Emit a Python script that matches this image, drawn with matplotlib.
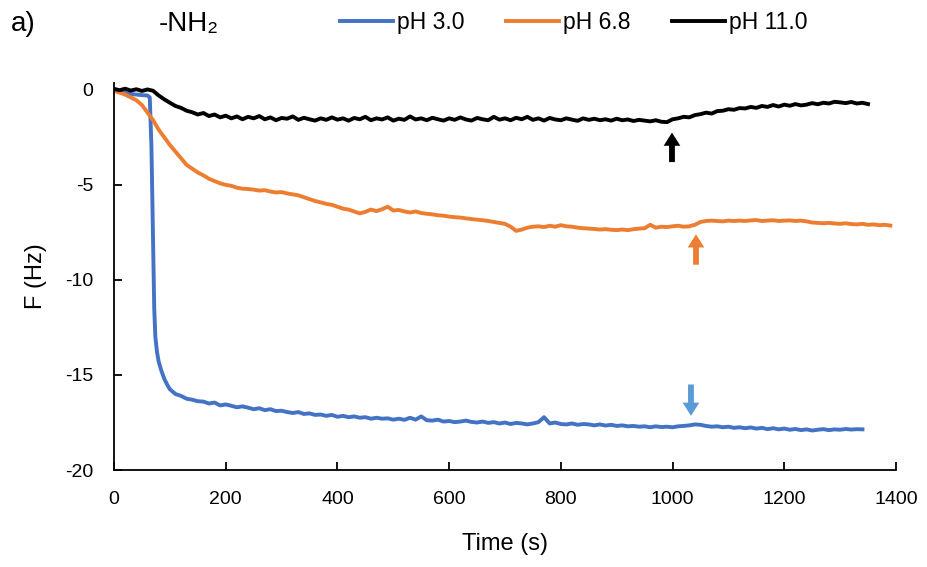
import numpy as np
import matplotlib
matplotlib.use('Agg')
from matplotlib import pyplot as plt

plt.rcParams['font.family'] = ['Liberation Sans', 'DejaVu Sans']
plt.rcParams['axes.unicode_minus'] = False

# pH 11.0 (black), sampled every 10 s
ph11 = [0.05, -0.02, 0.06, -0.04, 0.03, -0.06, 0.02, -0.05, -0.3, -0.5,
        -0.68, -0.85, -0.95, -1.1, -1.18, -1.3, -1.22, -1.38, -1.3, -1.45,
        -1.36, -1.5, -1.4, -1.55, -1.42, -1.5, -1.38, -1.55, -1.45, -1.6,
        -1.48, -1.52, -1.4, -1.58, -1.47, -1.55, -1.62, -1.5, -1.58, -1.45,
        -1.57, -1.5, -1.62, -1.48, -1.55, -1.42, -1.6, -1.5, -1.56, -1.45,
        -1.62, -1.52, -1.58, -1.4, -1.56, -1.5, -1.6, -1.47, -1.55, -1.62,
        -1.5, -1.58, -1.45, -1.56, -1.62, -1.48, -1.55, -1.6, -1.42, -1.57,
        -1.5, -1.6, -1.47, -1.55, -1.42, -1.58, -1.5, -1.62, -1.48, -1.56,
        -1.6, -1.5, -1.57, -1.63, -1.5, -1.58, -1.52, -1.6, -1.55, -1.62,
        -1.52, -1.6, -1.56, -1.64, -1.58, -1.62, -1.66, -1.6, -1.68, -1.7,
        -1.55, -1.5, -1.42, -1.45, -1.33, -1.28, -1.2, -1.25, -1.12, -1.1,
        -1.02, -1.05, -0.96, -0.98, -0.9, -0.95, -0.85, -0.9, -0.8, -0.88,
        -0.78, -0.84, -0.75, -0.82, -0.78, -0.7, -0.76, -0.68, -0.72, -0.63,
        -0.66, -0.7, -0.64, -0.72, -0.68, -0.75]

# pH 6.8 (orange), sampled every 10 s
ph68 = [-0.05, -0.15, -0.25, -0.4, -0.55, -0.8, -1.2, -1.6, -2.1, -2.5,
        -2.9, -3.25, -3.6, -3.95, -4.15, -4.35, -4.5, -4.68, -4.8, -4.92,
        -5.0, -5.05, -5.15, -5.2, -5.22, -5.25, -5.3, -5.28, -5.35, -5.4,
        -5.38, -5.45, -5.5, -5.55, -5.65, -5.75, -5.85, -5.92, -6.0, -6.05,
        -6.15, -6.25, -6.3, -6.4, -6.5, -6.42, -6.3, -6.38, -6.28, -6.15,
        -6.35, -6.32, -6.4, -6.45, -6.4, -6.48, -6.52, -6.55, -6.6, -6.62,
        -6.67, -6.7, -6.72, -6.76, -6.8, -6.83, -6.86, -6.9, -6.95, -7.0,
        -7.05, -7.2, -7.42, -7.35, -7.25, -7.2, -7.18, -7.22, -7.15, -7.2,
        -7.12, -7.18, -7.2, -7.25, -7.28, -7.3, -7.32, -7.35, -7.33, -7.36,
        -7.38, -7.35, -7.38, -7.33, -7.3, -7.28, -7.1, -7.25, -7.2, -7.22,
        -7.18, -7.15, -7.2, -7.18, -7.1, -6.95, -6.9, -6.88, -6.9, -6.92,
        -6.88, -6.9, -6.88, -6.9, -6.87, -6.85, -6.9, -6.88, -6.86, -6.9,
        -6.88, -6.87, -6.9, -6.88, -6.92, -6.98, -7.0, -7.02, -7.0, -7.03,
        -7.05, -7.02, -7.06, -7.08, -7.05, -7.1, -7.08, -7.12, -7.1, -7.14]

# pH 3.0 (blue): finer sampling around the fast drop, then every 10 s
ph3_t_early = [0, 10, 20, 30, 40, 50, 60, 64, 67, 70, 72, 74, 77, 80, 85,
               90, 95, 100, 110]
ph3_early = [-0.05, -0.1, -0.15, -0.22, -0.25, -0.28, -0.3, -0.4, -3.0,
             -8.0, -11.5, -13.0, -13.8, -14.3, -14.8, -15.2, -15.5, -15.75,
             -16.0]
ph3_late = [-16.1, -16.25, -16.3, -16.38, -16.4, -16.5, -16.45, -16.6,
            -16.55, -16.62, -16.7, -16.65, -16.72, -16.8, -16.75, -16.85,
            -16.8, -16.9, -16.88, -16.95, -17.0, -16.95, -17.05, -17.02,
            -17.1, -17.08, -17.15, -17.1, -17.2, -17.15, -17.22, -17.18,
            -17.25, -17.22, -17.3, -17.25, -17.3, -17.28, -17.35, -17.3,
            -17.36, -17.25, -17.35, -17.18, -17.38, -17.4, -17.35, -17.45,
            -17.42, -17.48, -17.45, -17.4, -17.47, -17.5, -17.45, -17.52,
            -17.48, -17.55, -17.5, -17.58, -17.52, -17.55, -17.6, -17.55,
            -17.48, -17.22, -17.55, -17.5, -17.58, -17.6, -17.55, -17.62,
            -17.58, -17.6, -17.65, -17.6, -17.66, -17.62, -17.68, -17.65,
            -17.7, -17.68, -17.72, -17.7, -17.75, -17.7, -17.74, -17.72,
            -17.75, -17.7, -17.68, -17.65, -17.6, -17.62, -17.68, -17.72,
            -17.7, -17.75, -17.72, -17.78, -17.75, -17.8, -17.76, -17.82,
            -17.78, -17.85, -17.8, -17.86, -17.82, -17.88, -17.84, -17.9,
            -17.86, -17.92, -17.88, -17.85, -17.9, -17.86, -17.88, -17.84,
            -17.87, -17.85, -17.86]

# arrows marking the rinse step: (time, tail F, head F, colour)
arrows = [(999, -3.8, -2.25, 'black'),
          (1042, -9.2, -7.6, '#ED7D31'),
          (1033, -15.5, -17.15, '#5B9BD5')]

t11 = np.arange(len(ph11)) * 10
t68 = np.arange(len(ph68)) * 10
t3 = np.array(ph3_t_early + list(120 + 10 * np.arange(len(ph3_late))))
v3 = np.array(ph3_early + ph3_late)

fig = plt.figure(figsize=(9.27, 5.67), dpi=100)
ax = fig.add_axes([0.123, 0.171, 0.8435, 0.683])

ax.plot(t3, v3, color='#4472C4', lw=2.8, label='pH 3.0')
ax.plot(t68, ph68, color='#ED7D31', lw=2.8, label='pH 6.8')
ax.plot(t11, ph11, color='black', lw=2.8, label='pH 11.0')

for x, y0, y1, c in arrows:
    ax.annotate('', xy=(x, y1), xytext=(x, y0),
                arrowprops=dict(arrowstyle='simple,head_length=0.95,head_width=1.2,tail_width=0.42',
                                color=c, shrinkA=0, shrinkB=0, mutation_scale=10, lw=0))

ax.set_xlim(0, 1400)
ax.set_ylim(-20, 0.37)
ax.set_xticks(range(0, 1401, 200))
ax.set_yticks([-20, -15, -10, -5, 0])
ax.spines['top'].set_visible(False)
ax.spines['right'].set_visible(False)
for s in ['left', 'bottom']:
    ax.spines[s].set_linewidth(1.3)
ax.tick_params(axis='both', direction='in', length=6, width=1.3, labelsize=14)
ax.tick_params(axis='x', pad=15)
ax.tick_params(axis='y', pad=15)

ax.set_xlabel('Time (s)', fontsize=17, labelpad=18)
ax.set_ylabel('F (Hz)', fontsize=17, labelpad=13)

fig.text(0.012, 0.958, 'a)', fontsize=20, va='center')
fig.text(0.171, 0.958, '-NH₂', fontsize=20, va='center')

fig.legend(loc='center left', bbox_to_anchor=(0.367, 0.96), ncol=3,
           frameon=False, fontsize=16.5, handlelength=2.3, handletextpad=0.17,
           columnspacing=1.83, borderpad=0, borderaxespad=0)

fig.savefig('out.png', dpi=100)
